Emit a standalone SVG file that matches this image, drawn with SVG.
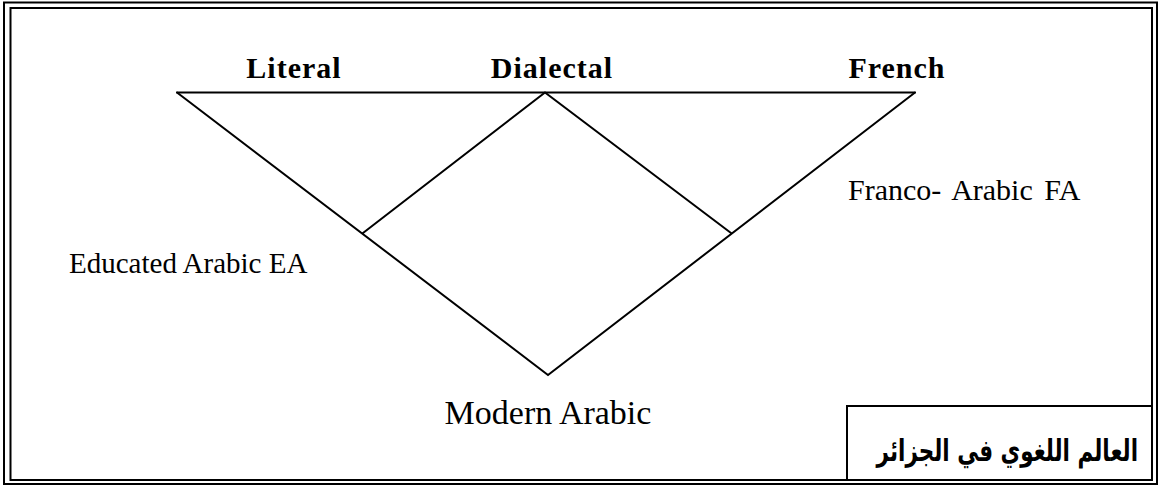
<svg xmlns="http://www.w3.org/2000/svg" width="1166" height="486" viewBox="0 0 1166 486">
<style>
.frame{fill:none;stroke:#000;stroke-width:2}
.ln{fill:none;stroke:#000;stroke-width:2;stroke-linecap:round}
.hd{font-family:"Liberation Serif","Times New Roman",serif;font-weight:bold;font-size:30px;letter-spacing:1px;fill:#000}
.lb{font-family:"Liberation Serif","Times New Roman",serif;font-size:29px;fill:#000}
.big{font-family:"Liberation Serif","Times New Roman",serif;font-size:34px;fill:#000}
.ar{font-family:"DejaVu Sans","Noto Sans",sans-serif;font-weight:bold;font-size:21.5px;fill:#000}
</style>
<rect width="1166" height="486" fill="#fff"/>
<g id="frame">
<rect class="frame" x="4" y="2.5" width="1153" height="481.5"/>
<rect class="frame" x="10.5" y="8" width="1141.5" height="472"/>
</g>
<g id="connectors">
<line class="ln" x1="177" y1="92.5" x2="915" y2="92.5"/>
<polyline class="ln" points="177,92.5 548,375 915,92.5"/>
<polyline class="ln" points="363,233 545,92.5 731,233"/>
</g>
<g id="literal"><text class="hd" x="294" y="78" text-anchor="middle">Literal</text></g>
<g id="dialectal"><text class="hd" x="552" y="78" text-anchor="middle">Dialectal</text></g>
<g id="french"><text class="hd" x="897" y="78" text-anchor="middle">French</text></g>
<g id="franco-arabic"><text class="lb" x="848" y="200" style="font-size:30px;word-spacing:4px">Franco- Arabic FA</text></g>
<g id="educated-arabic"><text class="lb" x="69" y="273">Educated Arabic EA</text></g>
<g id="modern-arabic"><text class="big" x="548" y="424" text-anchor="middle">Modern Arabic</text></g>
<g id="arabic-box">
<polyline class="frame" points="847,480 847,406 1152,406"/>
<text class="ar" transform="translate(1138,461) scale(1,1.4)" x="0" y="0" text-anchor="end">العالم اللغوي في الجزائر</text>
</g>
</svg>
